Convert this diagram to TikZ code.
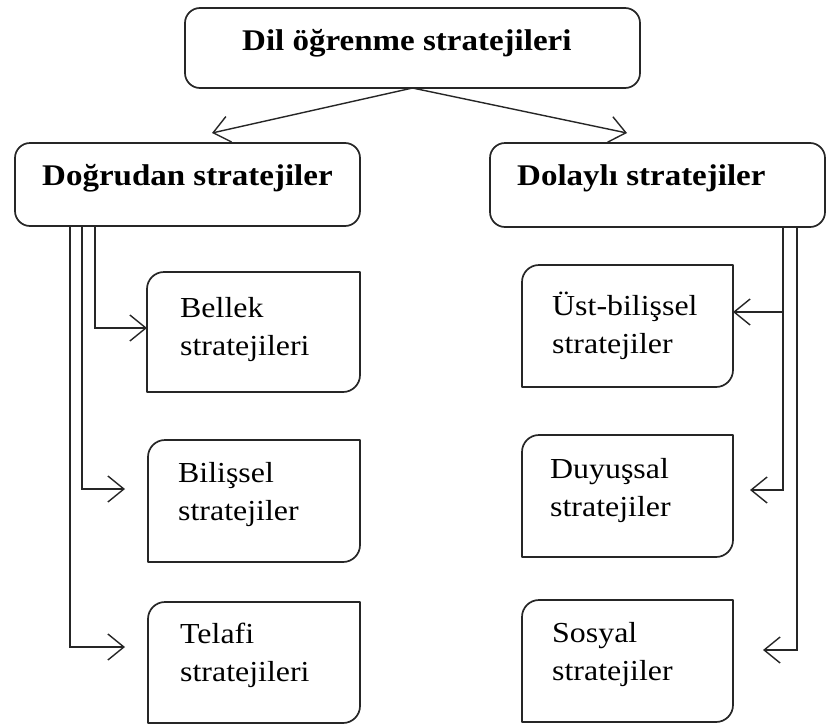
\documentclass[tikz,border=0pt]{standalone}
\usepackage{fontspec}
\setmainfont{Liberation Serif}[FakeStretch=1.1]
\usetikzlibrary{arrows.meta}
\newcommand\leafoutline[1]{%
  \draw[boxline] (#1.south west) -- ([yshift=-17pt]#1.north west)
    .. controls ([yshift=-7.6pt]#1.north west) and ([xshift=7.6pt]#1.north west) .. ([xshift=17pt]#1.north west)
    -- (#1.north east) -- ([yshift=17pt]#1.south east)
    .. controls ([yshift=7.6pt]#1.south east) and ([xshift=-7.6pt]#1.south east) .. ([xshift=-17pt]#1.south east) -- cycle;}
\tikzset{
  boxline/.style={draw=black!85, line width=1.7pt, line join=round},
  headbox/.style={boxline, rounded corners=15pt, inner sep=0pt, outer sep=0pt},
  leafbox/.style={inner sep=0pt, outer sep=0pt},
  headtext/.style={anchor=base west, inner sep=0pt, font=\fontsize{30}{36}\selectfont\bfseries},
  leaftext/.style={anchor=base west, inner sep=0pt, font=\fontsize{29}{38}\selectfont},
  arr/.style={draw=black!85, line width=1.4pt, -{Straight Barb[length=16pt,width=26pt]}},
}
\begin{document}
\begin{tikzpicture}[x=1pt,y=-1pt]
\useasboundingbox (0,0) rectangle (827,726);
\fill[white] (0,0) rectangle (827,726);

% header boxes
\node[headbox, minimum width=455pt, minimum height=80pt] (top) at (412.5,48) {};
\node[headbox, minimum width=345pt, minimum height=83pt] (dogru) at (187.5,184.5) {};
\node[headbox, minimum width=335pt, minimum height=84pt] (dolayli) at (657.5,185) {};
\node[headtext] (toptext) at (242,50) {Dil öğrenme stratejileri};
\node[headtext] (dogrutext) at (42,185) {Doğrudan stratejiler};
\node[headtext] (dolaylitext) at (517,185) {Dolaylı stratejiler};

% leaf boxes
\node[leafbox, minimum width=213pt, minimum height=120pt] (bellek) at (253.5,332) {};
\node[leafbox, minimum width=212pt, minimum height=122pt] (bilissel) at (254,501) {};
\node[leafbox, minimum width=212pt, minimum height=121pt] (telafi) at (254,662.5) {};
\node[leafbox, minimum width=211pt, minimum height=122pt] (ust) at (627.5,326) {};
\node[leafbox, minimum width=211pt, minimum height=122pt] (duyu) at (627.5,496) {};
\node[leafbox, minimum width=211pt, minimum height=122pt] (sosyal) at (627.5,661) {};
\leafoutline{bellek}
\leafoutline{bilissel}
\leafoutline{telafi}
\leafoutline{ust}
\leafoutline{duyu}
\leafoutline{sosyal}

\node[leaftext] (bellektext) at (180,317) {\begin{tabular}[t]{@{}l@{}}Bellek\\stratejileri\end{tabular}};
\node[leaftext] (bilisseltext) at (178,482) {\begin{tabular}[t]{@{}l@{}}Bilişsel\\stratejiler\end{tabular}};
\node[leaftext] (telafitext) at (180,643) {\begin{tabular}[t]{@{}l@{}}Telafi\\stratejileri\end{tabular}};
\node[leaftext] (usttext) at (552,315) {\begin{tabular}[t]{@{}l@{}}Üst-bilişsel\\stratejiler\end{tabular}};
\node[leaftext] (duyutext) at (550,478) {\begin{tabular}[t]{@{}l@{}}Duyuşsal\\stratejiler\end{tabular}};
\node[leaftext] (sosyaltext) at (552,642) {\begin{tabular}[t]{@{}l@{}}Sosyal\\stratejiler\end{tabular}};

% top arrows
\coordinate (lefttip) at (212,133);
\coordinate (righttip) at (627,133);
\draw[arr] (top.south) -- (lefttip);
\draw[arr] (top.south) -- (righttip);

% left connectors
\draw[arr] ([xshift=80pt]dogru.south west) |- ([yshift=4pt]bellek.west);
\draw[arr] ([xshift=67pt]dogru.south west) |- ([xshift=-23pt,yshift=12pt]bilissel.west);
\draw[arr] ([xshift=55pt]dogru.south west) |- ([xshift=-23pt,yshift=15.5pt]telafi.west);

% right connectors
\draw[arr] ([xshift=-42pt]dolayli.south east) |- ([yshift=14pt]ust.east);
\draw[arr] ([xshift=-42pt]dolayli.south east) |- ([xshift=17pt,yshift=6pt]duyu.east);
\draw[arr] ([xshift=-28pt]dolayli.south east) |- ([xshift=30pt,yshift=11pt]sosyal.east);
\end{tikzpicture}
\end{document}
